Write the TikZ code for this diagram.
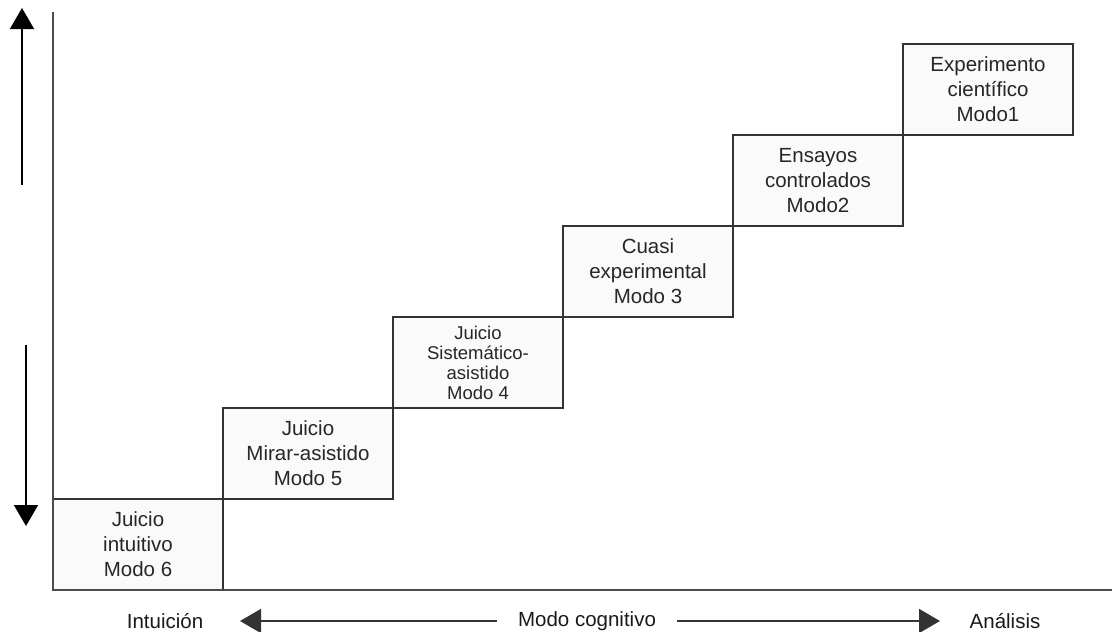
\documentclass[tikz,border=0pt]{standalone}
\usepackage{fontspec}
\setmainfont{Liberation Sans}
\usepackage{tikz}
\usetikzlibrary{arrows.meta}
\usetikzlibrary{positioning}

\begin{document}
\begin{tikzpicture}[x=1pt,y=-1pt,>={Triangle[width=24pt,length=21pt]},
			mode box/.style={rectangle,draw=black!80,fill=gray!4,line width=1.5pt,
				minimum width=170pt,minimum height=91pt,outer sep=0pt,inner sep=1pt,
				align=center,text=black!85,font=\fontsize{20.5}{25}\selectfont},
			axis label/.style={font=\fontsize{20.5}{24}\selectfont,text=black!90}]
			
			\useasboundingbox (0,0) rectangle (1112,632);
			
			\coordinate (origin) at (53,590);
			\coordinate (ytop) at (53,12);
			\coordinate (xend) at (1112,590);
			
			\node[mode box,anchor=south west] (m6) at (origin) {Juicio\\intuitivo\\Modo 6};
			\node[mode box] (m5) [above right=0pt of m6] {Juicio\\Mirar-asistido\\Modo 5};
			\node[mode box,font=\fontsize{18.5}{20}\selectfont] (m4) [above right=0pt of m5] {Juicio\\Sistemático-\\asistido\\Modo 4};
			\node[mode box] (m3) [above right=0pt of m4] {Cuasi\\experimental\\Modo 3};
			\node[mode box] (m2) [above right=0pt of m3] {Ensayos\\controlados\\Modo2};
			\node[mode box] (m1) [above right=0pt of m2] {Experimento\\científico\\Modo1};
			
			% ejes
			\draw[black!70,line width=1.8pt] (ytop) -- (origin) -- (xend);
			
			% flechas verticales
			\coordinate (upbot) at (22,185);
			\coordinate (uptip) at (22,8);
			\coordinate (downtop) at (26,345);
			\coordinate (downtip) at (26,526);
			\draw[->,line width=1.6pt] (upbot) -- (uptip);
			\draw[->,line width=1.6pt] (downtop) -- (downtip);
			
			% modo cognitivo
			\node[axis label] (intu) at (165,621) {Intuición};
			\node[axis label] (modo) at (587,621) {Modo cognitivo};
			\node[axis label] (anal) at (1005,621) {Análisis};
			\coordinate (ltip) at (240,621);
			\coordinate (rtip) at (940,621);
			\draw[->,line width=1.6pt,black!80,shorten <=18pt] (modo.west) -- (ltip);
			\draw[->,line width=1.6pt,black!80,shorten <=18pt] (modo.east) -- (rtip);
		\end{tikzpicture}
\end{document}
